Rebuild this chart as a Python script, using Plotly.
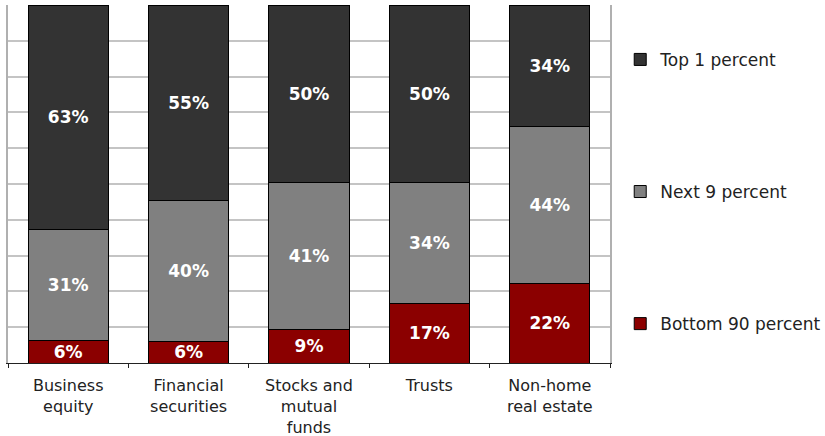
import plotly.graph_objects as go

categories = ["Business<br>equity", "Financial<br>securities", "Stocks and<br>mutual<br>funds",
              "Trusts", "Non-home<br>real estate"]
bottom_90 = [6.4, 5.9, 9.4, 16.6, 22.3]
next_9 = [30.8, 39.5, 40.9, 33.8, 43.9]
top_1 = [62.8, 54.6, 49.7, 49.6, 33.8]

series = [
    ("Bottom 90 percent", bottom_90, "#8b0000", 3),
    ("Next 9 percent", next_9, "#808080", 2),
    ("Top 1 percent", top_1, "#333333", 1),
]

FONT = "DejaVu Sans"
fig = go.Figure()
for name, vals, color, rank in series:
    fig.add_trace(go.Bar(
        x=categories, y=vals, name=name, legendrank=rank,
        marker=dict(color=color, line=dict(color="#000000", width=1)),
        texttemplate="%{y:.0f}%", textposition="inside", insidetextanchor="middle",
        constraintext="none",
        textfont=dict(family=FONT, size=17, color="white", weight="bold"),
        legendgroup=name, hoverinfo="skip",
    ))

fig.update_layout(
    barmode="stack", bargap=0.335,
    width=825, height=436,
    margin=dict(l=8, r=215, t=5, b=73, autoexpand=False),
    paper_bgcolor="white", plot_bgcolor="white",
    font=dict(family=FONT, size=17, color="#222222"),
    showlegend=True,
    legend=dict(x=1.017, xanchor="left", y=0.897, yanchor="top",
                traceorder="grouped", tracegroupgap=107,
                font=dict(family=FONT, size=17, color="#222222"),
                itemclick=False, itemdoubleclick=False),
)
fig.update_xaxes(
    type="category", range=[-0.5, 4.5], tickson="boundaries",
    ticks="outside", ticklen=4, tickcolor="#222222", tickwidth=1,
    ticklabelstandoff=8, automargin=False,
    showline=True, linecolor="#222222", linewidth=1,
    showgrid=False, tickfont=dict(family=FONT, size=16, color="#222222"),
)
fig.update_yaxes(
    range=[0, 100], dtick=10, showticklabels=False, ticks="",
    showgrid=True, gridcolor="#c4c4c4", gridwidth=2,
    showline=True, linecolor="#b0b0b0", linewidth=2, mirror=True,
    zeroline=False, automargin=False,
)
fig.write_html("out.html", config={"displayModeBar": False},
               post_script="document.body.style.margin='0px';")
